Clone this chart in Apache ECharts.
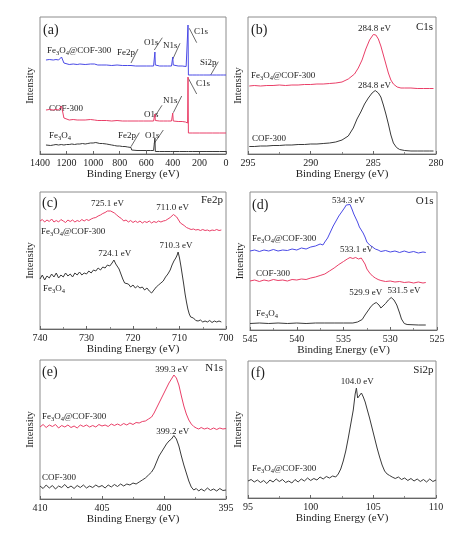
<!DOCTYPE html>
<html><head><meta charset="utf-8">
<script src="https://cdn.jsdelivr.net/npm/echarts@6/dist/echarts.min.js"></script>
<style>html,body{margin:0;padding:0;background:#fff}#c{width:474px;height:534px}</style>
</head><body><div id="c"></div>
<script>
// ---------- DATA (binding energy eV, intensity a.u.) ----------
// (a) survey
const surveyHybrid = [[1355,94],[1330,94.5],[1300,94],[1280,94.5],[1260,94],[1245,95],[1238,97],[1228,96.5],[1220,91],[1212,90],[1180,89.5],[1150,90],[1120,89.5],[1100,90],[1060,89.5],[1020,90],[990,90],[975,91],[965,89],[940,89],[900,89],[860,88.5],[820,89],[780,88.5],[740,88.5],[715,88.5],[705,88],[680,88],[640,88],[600,88],[570,88],[545,88],[538,88.5],[535,102],[532,89],[528,88],[500,88],[470,88],[440,88],[410,88],[404,88.5],[401,97],[397,89],[390,88],[360,88],[330,88],[300,87.5],[293,86],[288,86],[286,129],[283,79],[278,79],[250,79],[220,79],[200,79],[170,79],[150,79],[120,79],[104,79],[101,80],[98,79],[70,79],[40,79],[20,79],[0,79]];
const surveyCOF = [[1355,44],[1330,44.5],[1300,44],[1280,44.5],[1260,44],[1245,45],[1238,48],[1228,47],[1220,36],[1212,34.5],[1180,34],[1150,34.5],[1120,34],[1100,34],[1060,34],[1020,34.5],[990,34],[975,35],[965,33.5],[940,33.5],[900,33.5],[860,33],[820,33.5],[780,33],[740,33],[700,33],[660,33],[620,33],[580,33],[545,33],[538,33.5],[535,40],[532,33.5],[528,33],[500,33],[470,33],[440,33],[410,33],[404,33],[401,41],[397,33],[390,33],[360,32.5],[330,32.5],[305,32],[295,31],[289,31],[286,77],[283,21],[278,21],[250,21],[200,21],[150,21],[100,21],[50,21],[0,21]];
const surveyFe3O4 = [[1355,9],[1340,9.5],[1320,8.5],[1300,9],[1280,9.5],[1260,9],[1240,9.5],[1220,9],[1200,9.5],[1180,9.5],[1160,10],[1140,9.5],[1120,10],[1100,10],[1080,10.5],[1060,10],[1040,10.5],[1020,11],[1000,11],[980,11.5],[970,11],[950,10.5],[930,10.5],[900,10],[880,9.5],[860,9],[840,8.5],[820,8],[800,8],[780,7.5],[760,7.5],[740,7],[725,7],[715,6.5],[710,4],[700,3.5],[670,3.5],[640,3.5],[600,3.5],[570,3.5],[545,3.5],[538,3.5],[535,16],[532,2.5],[528,2.5],[500,2.5],[460,2.5],[420,2.5],[400,2.5],[350,2.5],[300,2.5],[288,2.5],[285,3.5],[282,2.5],[250,2.5],[200,2.5],[150,2.5],[105,2.5],[100,3],[95,2.5],[50,2.5],[0,2.5]];
// (b) C1s
const c1sHybrid = [[294.9,68],[294.5,68.5],[294,68],[293.5,68.5],[293,68.5],[292.5,69],[292,68.5],[291.5,69],[291,69],[290.5,69.5],[290,69.5],[289.5,70],[289,70],[288.5,70.5],[288,71],[287.5,72],[287,75],[286.5,80],[286.2,86],[285.9,94],[285.6,105],[285.3,114],[285.0,119.5],[284.8,119],[284.6,115],[284.4,108],[284.2,99],[284.0,90],[283.8,81],[283.6,74],[283.4,70],[283.1,67],[282.8,66],[282.5,66],[282,66],[281.5,65.5],[281,65.5],[280.5,65.5],[280.2,65.5]];
const c1sCOF = [[294.9,7.5],[294.5,7.5],[294,8],[293.5,8],[293,8.5],[292.5,8.5],[292,9],[291.5,9],[291,9.5],[290.5,9.5],[290,10],[289.5,10],[289,10.5],[288.5,11],[288,12],[287.5,14],[287,18],[286.6,26],[286.3,35],[286,42],[285.7,50],[285.4,56],[285.1,61],[284.85,63.5],[284.6,61],[284.4,57],[284.2,49],[284,40],[283.8,30],[283.6,19],[283.4,11],[283.15,6.5],[282.9,4.5],[282.5,3.5],[282,3],[281.5,3],[281,3],[280.5,3],[280.2,3]];
// (c) Fe2p
const fe2pHybrid = [[740,108],[739.5,109.5],[739,107],[738.5,109],[738,107.5],[737.5,110],[737,107],[736.5,108.5],[736,107],[735.5,109.5],[735,108],[734.5,106.5],[734,109],[733.5,107.5],[733,109],[732.5,107],[732,108.5],[731.5,107.5],[731,109.5],[730.5,108],[730,109.5],[729.5,108.5],[729,110],[728.5,111],[728,111.5],[727.5,113],[727,114],[726.5,115.5],[726,116.5],[725.5,118],[725.2,119.5],[724.8,118],[724.4,118.5],[724,116],[723.5,114],[723,112],[722.5,110.5],[722,108],[721.5,109],[721,107],[720.5,108.5],[720,106.5],[719.5,108],[719,106.5],[718.5,108],[718,106],[717.5,107.5],[717,106.5],[716.5,108],[716,106],[715.5,107.5],[715,106.5],[714.5,108],[714,107],[713.5,108],[713,108.5],[712.5,110],[712,111.5],[711.6,113],[711.3,114.5],[711,113.5],[710.6,112],[710.2,109],[709.8,106],[709.4,104.5],[709,103.5],[708.5,101.5],[708,100.5],[707.5,99.5],[707,100],[706.5,99],[706,99.5],[705.5,98.5],[705,99.5],[704.5,98.5],[704,99],[703.5,98],[703,99],[702.5,98.5],[702,99.5],[701.5,98.5],[701,99]];
const fe2pFe3O4 = [[740,50],[739.5,54],[739,49],[738.5,53],[738,51],[737.5,55],[737,52],[736.5,56],[736,51],[735.5,54],[735,52],[734.5,56],[734,53],[733.5,55],[733,52],[732.5,56],[732,54],[731.5,57],[731,54],[730.5,56],[730,55],[729.5,58],[729,56],[728.5,59],[728,58],[727.5,61],[727,59],[726.5,62],[726,61],[725.5,64],[725,63],[724.5,66],[724.1,69],[723.7,65],[723.3,66],[723,60],[722.6,55],[722.2,50],[721.8,46],[721.4,44],[721,45],[720.5,42],[720,44],[719.5,41],[719,43],[718.5,41],[718,42],[717.5,39],[717,41],[716.5,38],[716,36],[715.5,39],[715,42],[714.5,44],[714,46],[713.5,48],[713,52],[712.5,55],[712,59],[711.6,64],[711.2,68],[710.8,71],[710.5,74],[710.3,77],[710,71],[709.7,63],[709.4,54],[709.1,45],[708.8,35],[708.5,27],[708.2,20],[707.9,15],[707.6,12],[707.3,10],[707,11],[706.5,8.5],[706,8],[705.5,9],[705,7],[704.5,8],[704,7],[703.5,8.5],[703,6.5],[702.5,8],[702,7],[701.5,8],[701,7]];
// (d) O1s
const o1sHybrid = [[545,79],[544.5,80],[544,78.5],[543.5,80],[543,79],[542.5,80.5],[542,79],[541.5,80],[541,79.5],[540.5,81],[540,80],[539.5,82],[539,81],[538.5,83],[538,84],[537.5,86],[537.2,85],[537,88],[536.7,92],[536.4,98],[536.1,104],[535.8,109],[535.5,114],[535.2,118],[534.9,122],[534.7,125],[534.5,124],[534.3,125.5],[534.1,121],[533.9,116],[533.7,112],[533.5,108],[533.3,103],[533.1,100],[532.9,97],[532.7,93],[532.5,88],[532.2,85],[531.9,83],[531.6,81],[531.3,80],[531,78.5],[530.5,79.5],[530,78],[529.5,79],[529,77.5],[528.5,79],[528,77.5],[527.5,78.5],[527,77],[526.5,78],[526.2,77.5]];
const o1sCOF = [[545,49],[544.5,50],[544,48.5],[543.5,50],[543,49],[542.5,50.5],[542,49.5],[541.5,50],[541,49],[540.5,50.5],[540,50],[539.5,51],[539,50.5],[538.5,52],[538,53],[537.5,54.5],[537,56],[536.5,59],[536,62],[535.5,65.5],[535,68.5],[534.6,71],[534.3,72.5],[534,71.5],[533.7,72.5],[533.4,71],[533.1,72],[532.9,70],[532.7,66],[532.5,61],[532.2,57],[531.9,54],[531.6,52],[531.3,50.5],[531,49.5],[530.5,48.5],[530,49],[529.5,48],[529,48.5],[528.5,47.5],[528,48],[527.5,47],[527,48],[526.5,47],[526.2,47.5]];
const o1sFe3O4 = [[545,6.5],[544,7],[543,6.5],[542,7],[541,6.5],[540,7],[539,6.5],[538,7],[537,7],[536,7],[535,7],[534,7],[533.5,8],[533,10.5],[532.7,15],[532.4,19],[532.1,23],[531.8,26],[531.5,27.5],[531.2,25],[531,22],[530.8,23],[530.5,26.5],[530.2,30],[529.9,32.5],[529.6,30],[529.3,25],[529,17],[528.8,11],[528.5,6.5],[528.2,5.5],[528,5],[527,5],[526.2,5]];
// (e) N1s
const n1sHybrid = [[410,72],[409.75,74.5],[409.5,71.5],[409.25,74],[409,72.5],[408.75,74.5],[408.5,71],[408.25,73.5],[408,72],[407.75,74],[407.5,71.5],[407.25,73],[407,71],[406.75,74],[406.5,72.5],[406.25,74],[406,72],[405.75,73.5],[405.5,72],[405.25,74.5],[405,73],[404.75,74],[404.5,72.5],[404.25,75],[404,73.5],[403.75,75],[403.5,73.5],[403.25,75.5],[403,74],[402.75,76],[402.5,74.5],[402.25,76.5],[402,76],[401.75,77.5],[401.5,78],[401.25,80],[401,82],[400.8,86],[400.6,91],[400.4,96],[400.2,101],[400,106],[399.8,111],[399.6,116],[399.4,120],[399.2,124],[399,121],[398.8,114],[398.6,103],[398.4,93],[398.2,85],[398,79],[397.8,75],[397.6,72.5],[397.4,71],[397.2,70],[397,71.5],[396.75,70],[396.5,71],[396.25,69.5],[396,71],[395.75,69.5],[395.5,71],[395.25,70],[395,70.5]];
const n1sCOF = [[410,13],[409.75,10.5],[409.5,14],[409.25,11],[409,13.5],[408.75,10],[408.5,13],[408.25,11.5],[408,14.5],[407.75,11],[407.5,13],[407.25,10.5],[407,13.5],[406.75,11.5],[406.5,14],[406.25,11],[406,13],[405.75,11.5],[405.5,14],[405.25,12],[405,13.5],[404.75,11],[404.5,14],[404.25,12],[404,14.5],[403.75,12.5],[403.5,15],[403.25,13],[403,15],[402.75,14],[402.5,16],[402.25,15],[402,17],[401.75,19],[401.5,21],[401.25,24],[401,27],[400.8,31],[400.6,37],[400.4,43],[400.2,47],[400,51],[399.8,55],[399.6,58],[399.4,60],[399.2,63.5],[399,60],[398.8,53],[398.6,43],[398.4,34],[398.2,26],[398,18],[397.8,12],[397.6,9],[397.4,10.5],[397.2,8],[397,10],[396.75,8],[396.5,11],[396.25,8.5],[396,10],[395.75,8],[395.5,10.5],[395.25,8.5],[395,9]];
// (f) Si2p
const si2pHybrid = [[95,17],[95.25,18.5],[95.5,16],[95.75,18],[96,15.5],[96.25,17.5],[96.5,14.5],[96.75,18],[97,16],[97.25,19],[97.5,16.5],[97.75,18.5],[98,15.5],[98.25,17],[98.5,15],[98.75,18.5],[99,16],[99.25,19],[99.5,17],[99.75,20],[100,17.5],[100.25,19.5],[100.5,18],[100.75,21],[101,19],[101.25,21.5],[101.5,20],[101.75,22],[102,21],[102.2,24],[102.4,29],[102.6,37],[102.8,47],[103,60],[103.2,74],[103.4,88],[103.55,104],[103.65,110],[103.75,100],[103.9,102],[104.05,105],[104.2,101],[104.35,96],[104.5,89],[104.7,80],[104.9,70],[105.1,60],[105.3,50],[105.5,41],[105.7,33],[105.9,27],[106.1,24],[106.3,22.5],[106.5,21],[106.75,19.5],[107,21],[107.25,18.5],[107.5,20],[107.75,17.5],[108,19.5],[108.25,17],[108.5,19],[108.75,16.5],[109,18.5],[109.25,16],[109.5,19],[109.75,16.5],[110,18]];

// axis ranges [min, max, interval, inverse]
const xRanges = [[0,1400,200,true],[280,295,5,true],[700,740,10,true],[525,545,5,true],[395,410,5,true],[95,110,5,false]];
const peakLabels = ['284.8 eV','284.8 eV','725.1 eV','711.0 eV','724.1 eV','710.3 eV','534.3 eV','533.1 eV','529.9 eV','531.5 eV','399.3 eV','399.2 eV','104.0 eV'];

// ---------- LAYOUT ----------
const FONT = "'Liberation Serif','Times New Roman',serif";
const BLUE = '#4a4ae6', RED = '#ea3f68', BLACK = '#3a3a3a';
const grids = [
  {left:40, top:17, width:186, height:137},
  {left:248, top:17, width:188, height:137},
  {left:40, top:192, width:186, height:137},
  {left:250, top:192, width:187, height:138},
  {left:40, top:360, width:186, height:139},
  {left:248, top:361, width:188, height:137}
];

const chart = echarts.init(document.getElementById('c'), null, {renderer:'canvas'});

const xAxis = xRanges.map((r,i)=>({
  type:'value', gridIndex:i, min:r[0], max:r[1], interval:r[2], inverse:r[3],
  name:'Binding Energy (eV)', nameLocation:'middle', nameGap:15,
  nameTextStyle:{fontFamily:FONT, fontSize:11, color:'#222'},
  axisLine:{show:true, lineStyle:{color:'#666', width:1}},
  axisTick:{show:true, inside:true, length:3, lineStyle:{color:'#666'}},
  minorTick:{show:i>0, splitNumber:2, length:2, lineStyle:{color:'#888'}},
  axisLabel:{fontFamily:FONT, fontSize:10, color:'#222', margin:4, formatter:v=>String(v)},
  splitLine:{show:false}
}));
const yAxis = grids.map((g,i)=>({
  type:'value', gridIndex:i, min:0, max:g.height,
  name:'Intensity', nameLocation:'middle', nameGap:4, nameRotate:90,
  nameTextStyle:{fontFamily:FONT, fontSize:10.5, color:'#222'},
  axisLine:{show:false}, axisTick:{show:false}, axisLabel:{show:false}, splitLine:{show:false}
}));

function ln(data, color, i){
  return {type:'line', data, xAxisIndex:i, yAxisIndex:i, symbol:'none', showSymbol:false,
    lineStyle:{color, width:1}, animation:false, silent:true};
}
const series = [
  ln(surveyHybrid, BLUE, 0), ln(surveyCOF, RED, 0), ln(surveyFe3O4, BLACK, 0),
  ln(c1sHybrid, RED, 1), ln(c1sCOF, BLACK, 1),
  ln(fe2pHybrid, RED, 2), ln(fe2pFe3O4, BLACK, 2),
  ln(o1sHybrid, BLUE, 3), ln(o1sCOF, RED, 3), ln(o1sFe3O4, BLACK, 3),
  ln(n1sHybrid, RED, 4), ln(n1sCOF, BLACK, 4),
  ln(si2pHybrid, BLACK, 5)
];

// text annotations
const rich = {
  n:{fontFamily:FONT, fontSize:9, color:'#222', lineHeight:12, verticalAlign:'middle'},
  s:{fontFamily:FONT, fontSize:6.5, color:'#222', verticalAlign:'bottom'}
};
const HYB = '{n|Fe}{s|3}{n|O}{s|4}{n|@COF-300}';
const FEO = '{n|Fe}{s|3}{n|O}{s|4}';
const COF = '{n|COF-300}';
function T(x,y,text,size,align){
  return {type:'text', x, y, silent:true, style:{text, fontFamily:FONT, fontSize:size, fill:'#222',
    align:align||'left', verticalAlign:'middle', rich}};
}
function L(x1,y1,x2,y2){
  return {type:'line', silent:true, shape:{x1,y1,x2,y2}, style:{stroke:'#444', lineWidth:0.8}};
}
const graphic = [
  T(43,30.5,'(a)',14), T(251,30,'(b)',14), T(42,203,'(c)',14), T(252,205,'(d)',14), T(42,372,'(e)',14), T(251,373,'(f)',14),
  T(433,27,'C1s',11,'right'), T(223,200,'Fe2p',11,'right'), T(433.5,201.5,'O1s',11,'right'), T(223,368,'N1s',11,'right'), T(433.5,370,'Si2p',11,'right'),
  T(374.5,29,peakLabels[0],9,'center'), T(374.5,86,peakLabels[1],9,'center'),
  T(107.5,204,peakLabels[2],9,'center'), T(172.7,208,peakLabels[3],9,'center'),
  T(114.7,254,peakLabels[4],9,'center'), T(176,245.5,peakLabels[5],9,'center'),
  T(348.5,200.5,peakLabels[6],9,'center'), T(356.5,250,peakLabels[7],9,'center'),
  T(365.7,293,peakLabels[8],9,'center'), T(404,291,peakLabels[9],9,'center'),
  T(171.7,370,peakLabels[10],9,'center'), T(172.7,431.5,peakLabels[11],9,'center'),
  T(357.3,381.5,peakLabels[12],9,'center'),
  T(47,51,HYB,9), T(49,109,COF,9), T(49,136,FEO,9),
  T(251,76,HYB,9), T(252,138.5,COF,9),
  T(41,232,HYB,9), T(43,289,FEO,9),
  T(252,239,HYB,9), T(256,273.3,COF,9), T(256,314,FEO,9),
  T(42,417,HYB,9), T(42,478,COF,9),
  T(252,469,HYB,9),
  T(117,53,'Fe2p',9), T(144,42.5,'O1s',9), T(163,45.5,'N1s',9), T(194,31.5,'C1s',9), T(200,63,'Si2p',9),
  T(196,83.5,'C1s',9), T(144,114.5,'O1s',9), T(163,100.5,'N1s',9),
  T(118,136,'Fe2p',9), T(145,136,'O1s',9),
  L(131,63,138,49), L(154.3,50,162.3,37.7), L(172.7,59.3,180,43.3), L(189.3,28.3,196.7,42.7), L(210.7,75,218.3,61.7),
  L(188.3,78.3,196.7,94), L(154.3,117.3,162,105.3), L(173.3,112.7,181.7,96),
  L(131,146.7,139.3,132.7), L(154.3,143.3,163.3,130)
];

chart.setOption({
  animation:false,
  backgroundColor:'#fff',
  grid: grids.map(g=>Object.assign({show:true, borderColor:'#8c8c8c', borderWidth:1, backgroundColor:'transparent'}, g)),
  xAxis, yAxis, series, graphic
});
</script></body></html>
